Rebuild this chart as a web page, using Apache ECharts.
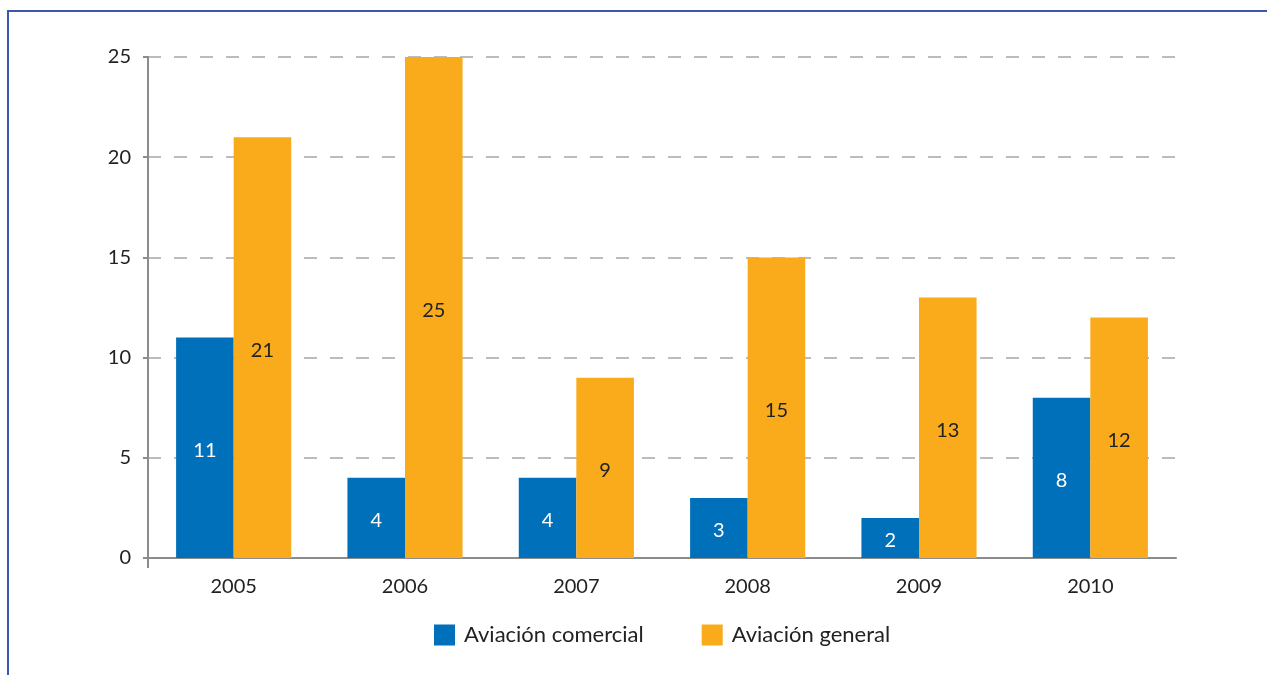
<!DOCTYPE html>
<html>
<head>
<meta charset="utf-8">
<script src="https://cdn.jsdelivr.net/npm/echarts@6/dist/echarts.min.js"></script>
<style>
  html, body { margin: 0; padding: 0; background: #fff; }
  #wrap { position: relative; width: 1267px; height: 675px; overflow: hidden; }
  #chart { position: absolute; left: 0; top: 0; width: 1267px; height: 675px; }
  #frame { position: absolute; left: 7px; top: 10px; width: 1300px; height: 700px;
           border: 2px solid #3d57ad; pointer-events: none; box-sizing: border-box; }
</style>
</head>
<body>
<div id="wrap">
  <div id="chart"></div>
  <div id="frame"></div>
</div>
<script>
// Years on the category axis
const years = ['2005', '2006', '2007', '2008', '2009', '2010'];
// Number of accidents per year by aviation type
const comercial = [11, 4, 4, 3, 2, 8];
const general = [21, 25, 9, 15, 13, 12];
const seriesNames = ['Aviación comercial', 'Aviación general'];

const FONT = 'Lato, "Open Sans", sans-serif';
const AXIS_GREY = '#8c8c8c';
const chart = echarts.init(document.getElementById('chart'));

chart.setOption({
  animation: false,
  backgroundColor: 'transparent',
  textStyle: { fontFamily: FONT },
  grid: { left: 148, right: 91, top: 57, bottom: 117 },
  legend: {
    top: 619,
    left: 429,
    itemWidth: 21,
    itemHeight: 21,
    itemGap: 58,
    icon: 'rect',
    textStyle: { fontSize: 22, color: '#222', fontFamily: FONT, padding: [0, 0, 0, 4] },
    data: seriesNames
  },
  xAxis: {
    type: 'category',
    data: years,
    axisLine: { lineStyle: { color: AXIS_GREY, width: 2 } },
    axisTick: { show: false },
    axisLabel: { color: '#222', fontSize: 20, margin: 19, fontFamily: FONT }
  },
  yAxis: {
    type: 'value',
    min: 0,
    max: 25,
    interval: 5,
    axisLine: {
      show: true,
      // short stub of the vertical axis reaching below the baseline
      symbol: ['rect', 'none'],
      symbolSize: [2, 20],
      lineStyle: { color: AXIS_GREY, width: 2 }
    },
    axisTick: { show: true, length: 5, lineStyle: { color: AXIS_GREY, width: 2 } },
    axisLabel: { color: '#222', fontSize: 20, margin: 17, fontFamily: FONT },
    splitLine: { lineStyle: { color: '#a6a6a6', width: 1.5, type: [13, 13] } }
  },
  series: [
    {
      name: seriesNames[0],
      type: 'bar',
      data: comercial,
      barWidth: '33.6%',
      barGap: '0%',
      itemStyle: { color: '#0070ba' },
      label: { show: true, position: 'inside', offset: [0, 3], color: '#fff', fontSize: 20, fontFamily: FONT }
    },
    {
      name: seriesNames[1],
      type: 'bar',
      data: general,
      barWidth: '33.6%',
      itemStyle: { color: '#f9ab1c' },
      label: { show: true, position: 'inside', offset: [0, 3], color: '#222', fontSize: 20, fontFamily: FONT }
    }
  ]
});
</script>
</body>
</html>
